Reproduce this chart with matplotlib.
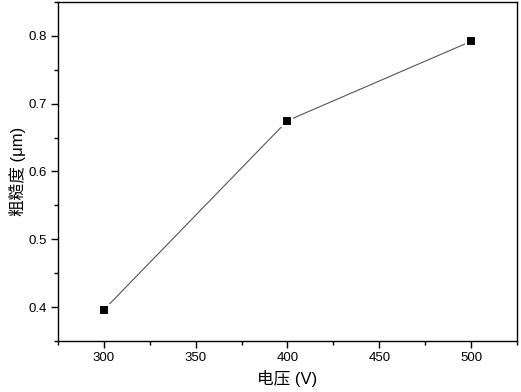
import matplotlib
matplotlib.use("Agg")
import matplotlib.pyplot as plt
from matplotlib.ticker import MultipleLocator

voltage = [300, 400, 500]
roughness = [0.396, 0.675, 0.792]
x_label = "电压 (V)"
y_label = "粗糙度 (μm)"

plt.rcParams['font.family'] = ['Liberation Sans', 'Noto Sans CJK SC', 'DejaVu Sans']

fig = plt.figure(figsize=(5.21, 3.92), dpi=100)
ax = fig.add_axes([0.1113, 0.1301, 0.881, 0.8648])
ax.plot(voltage, roughness, color='#555555', lw=0.8, zorder=2)
ax.plot(voltage, roughness, ls='none', marker='s', ms=6.5, mfc='black',
        mec='white', mew=1.5, zorder=3)
ax.set_xlim(275, 525)
ax.set_ylim(0.35, 0.85)
ax.xaxis.set_major_locator(MultipleLocator(50))
ax.xaxis.set_minor_locator(MultipleLocator(25))
ax.yaxis.set_major_locator(MultipleLocator(0.1))
ax.yaxis.set_minor_locator(MultipleLocator(0.05))
ax.set_xticks([300, 350, 400, 450, 500])
ax.set_yticks([0.4, 0.5, 0.6, 0.7, 0.8])
ax.yaxis.set_major_formatter(matplotlib.ticker.FormatStrFormatter('%.1f'))
ax.tick_params(which='major', direction='out', length=5, width=1, labelsize=9.5, pad=3)
ax.tick_params(which='minor', direction='out', length=3, width=1)
for s in ax.spines.values():
    s.set_linewidth(1)
ax.set_xlabel(x_label, fontsize=12, labelpad=4)
ax.set_ylabel(y_label, fontsize=12, labelpad=2)
fig.savefig("out.png", dpi=100)
